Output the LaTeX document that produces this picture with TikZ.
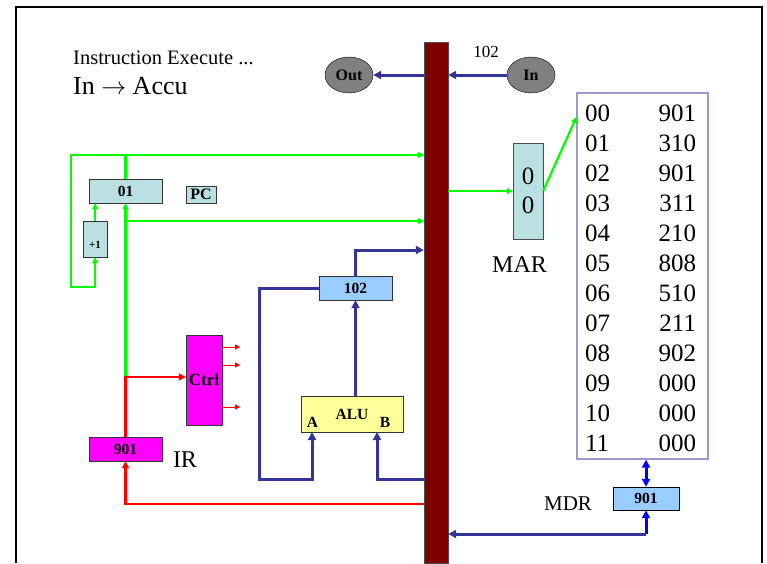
\documentclass[tikz,border=0pt]{standalone}
\usepackage{fontspec}
\setmainfont{Liberation Serif}
\usepackage{xcolor}
\usetikzlibrary{arrows.meta, positioning, shapes.geometric}

\definecolor{busred}{HTML}{800000}
\definecolor{regcyan}{HTML}{BBE0E3}
\definecolor{regblue}{HTML}{99CCFF}
\definecolor{ctrlpink}{HTML}{FF00FF}
\definecolor{aluyellow}{HTML}{FFFF99}
\definecolor{wiregreen}{HTML}{00FF00}
\definecolor{wireblue}{HTML}{333399}
\definecolor{membox}{HTML}{9999CC}

\begin{document}
\begin{tikzpicture}[
    x=1pt, y=-1pt,
    reg/.style={
        rectangle, draw=black!80, inner sep=0pt,
        font=\bfseries\fontsize{15.5}{15.5}\selectfont
    },
    port/.style={
        ellipse, draw=black, fill=gray, inner sep=0pt,
        minimum width=48, minimum height=36,
        font=\bfseries\fontsize{16}{16}\selectfont
    },
    lbl/.style={anchor=base, inner sep=0pt},
    gwire/.style={-{Triangle[length=6pt,width=6pt]}, draw=wiregreen, line width=2.2pt},
    rwire/.style={-{Triangle[length=7pt,width=7pt]}, draw=red, line width=2.6pt},
    rthin/.style={-{Triangle[length=5pt,width=5pt]}, draw=red, line width=0.9pt},
    bwire/.style={-{Triangle[length=8pt,width=8pt]}, draw=wireblue, line width=3pt}
]
    % frame and bounding box
    \useasboundingbox (0,0) rectangle (767,563);
    \draw[line width=2pt] (16,563) -- (16,7) -- (762,7) -- (762,563);

    % bus
    \node[rectangle, draw=black!70, fill=busred, minimum width=24, minimum height=521, inner sep=0pt] (bus) at (436,302.5) {};

    % title
    \node[anchor=base west, inner sep=0pt, font=\fontsize{20.5}{20.5}\selectfont] (title) at (73,64) {Instruction Execute ...};
    \node[anchor=base west, inner sep=0pt, font=\fontsize{26}{26}\selectfont] (instr) at (73,94) {In $\rightarrow$ Accu};

    % in / out
    \node[port] (out) at (349,75) {Out};
    \node[port] (in) at (531,75) {In};
    \node[lbl, font=\fontsize{17}{17}\selectfont] (inval) at (486,57) {102};

    % program counter
    \node[reg, fill=regcyan, minimum width=73, minimum height=24] (pc) at (125.5,191) {01};
    \node[reg, fill=regcyan, minimum width=30, minimum height=17, font=\bfseries\fontsize{16}{16}\selectfont] (pcname) at (201,194.5) {PC};
    \node[reg, fill=regcyan, minimum width=24, minimum height=36, font=\bfseries\fontsize{11}{11}\selectfont] (plus1) at (95,239) {\raisebox{-9pt}[0pt][0pt]{+1}};

    % instruction register and control
    \node[reg, fill=ctrlpink, minimum width=73, minimum height=24] (ir) at (125.5,449) {901};
    \node[lbl, font=\fontsize{24}{24}\selectfont] (irname) at (185,467) {IR};
    \node[reg, fill=ctrlpink, minimum width=36, minimum height=90, font=\bfseries\fontsize{17}{17}\selectfont] (ctrl) at (204,380) {Ctrl};

    % accumulator and alu
    \node[reg, fill=regblue, minimum width=73, minimum height=24] (acc) at (355.5,288) {102};
    \node[reg, fill=aluyellow, minimum width=102, minimum height=36] (alu) at (352,414) {ALU};
    \node[font=\bfseries\fontsize{15.5}{15.5}\selectfont, inner sep=0pt] (alua) at (312.5,422) {A};
    \node[font=\bfseries\fontsize{15.5}{15.5}\selectfont, inner sep=0pt] (alub) at (385,422) {B};
    \coordinate (ina) at (312,432);
    \coordinate (inb) at (377,432);

    % memory
    \node[rectangle, draw=black!70, fill=regcyan, minimum width=30, minimum height=96, inner sep=0pt, align=center, font=\fontsize{25}{29}\selectfont] (mar) at (528,191) {0\\0};
    \node[lbl, font=\fontsize{24}{24}\selectfont] (marname) at (519.5,272) {MAR};
    \node[rectangle, draw=membox, line width=1.2pt, minimum width=131, minimum height=366] (mem) at (642.5,276) {};
    \node[inner sep=0pt, font=\fontsize{25}{30}\selectfont] (memdata) at ([xshift=-2pt, yshift=-4pt]mem.center) {
        \begin{tabular}{@{}l@{\hspace{48.5pt}}r@{}}
        00 & 901\\
        01 & 310\\
        02 & 901\\
        03 & 311\\
        04 & 210\\
        05 & 808\\
        06 & 510\\
        07 & 211\\
        08 & 902\\
        09 & 000\\
        10 & 000\\
        11 & 000
        \end{tabular}
    };
    \node[reg, fill=regblue, draw=black, minimum width=66, minimum height=23] (mdr) at (646,498.5) {901};
    \node[lbl, font=\fontsize{21}{21}\selectfont] (mdrname) at (568,510) {MDR};
    \coordinate (mdrlow) at (646,534);

    % green wires
    \draw[gwire] (pc.north) |- (bus.west |- 0,155);
    \draw[gwire] (pc.north) |- (71,155) |- (95,287) -- (plus1.south);
    \draw[gwire] (plus1.north) -- (plus1.north |- pc.south);
    \coordinate (split) at (125.5,377);
    \draw[gwire] (split) -- (pc.south);
    \draw[gwire] (pc.south |- 0,221) -- (bus.west |- 0,221);
    \draw[gwire] (bus.east |- mar) -- (mar.west);
    \draw[gwire] (mar.east) -- (mem.north west |- 0,117);

    % red wires
    \draw[rwire] (ir.north) -- (split) -- (ctrl.west |- split);
    \draw[rwire] (bus.west |- 0,504) -| (ir.south);
    \draw[rthin] (ctrl.east |- 0,347) -- ++(18,0);
    \draw[rthin] (ctrl.east |- 0,365) -- ++(18,0);
    \draw[rthin] (ctrl.east |- 0,407) -- ++(18,0);

    % blue wires
    \draw[bwire] (bus.west |- out) -- (out.east);
    \draw[bwire] (in.west) -- (bus.east |- in);
    \draw[bwire] (acc.north) |- (bus.west |- 0,250);
    \draw[bwire] (acc.south |- alu.north) -- (acc.south);
    \draw[bwire] (acc.west) -| (259,479) -| (ina);
    \draw[bwire] (bus.west |- 0,479) -| (inb);
    \draw[bwire, draw=blue, {Triangle[length=8pt,width=8pt]}-{Triangle[length=8pt,width=8pt]}] (mdr.north |- mem.south) -- (mdr.north);
    \draw[bwire, draw=blue] (mdrlow) -- (mdr.south);
    \draw[bwire] (mdrlow) -- (bus.east |- mdrlow);
\end{tikzpicture}
\end{document}
